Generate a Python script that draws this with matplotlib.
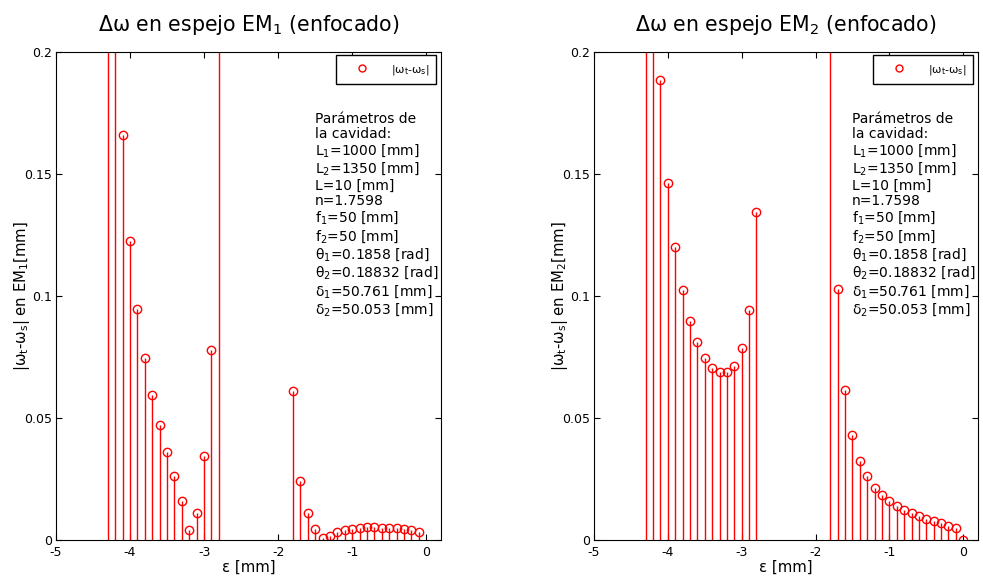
import numpy as np
import matplotlib.pyplot as plt
from matplotlib.lines import Line2D

# epsilon values (mm), step 0.1 from -4.3 to 0
eps = [-4.3, -4.2, -4.1, -4.0, -3.9, -3.8, -3.7, -3.6, -3.5, -3.4, -3.3, -3.2,
       -3.1, -3.0, -2.9, -2.8, -2.7, -2.6, -2.5, -2.4, -2.3, -2.2, -2.1, -2.0,
       -1.9, -1.8, -1.7, -1.6, -1.5, -1.4, -1.3, -1.2, -1.1, -1.0, -0.9, -0.8,
       -0.7, -0.6, -0.5, -0.4, -0.3, -0.2, -0.1, 0.0]

nan = np.nan
# |w_t - w_s| at EM1 (values above 0.2 are off-scale in the picture)
dw_em1 = [0.45, 0.32, 0.166, 0.1225, 0.0947, 0.0747, 0.0594, 0.0473, 0.0362, 0.0264,
          0.0160, 0.0041, 0.0111, 0.0343, 0.0779, 0.40,
          nan, nan, nan, nan, nan, nan, nan, nan, nan,
          0.0611, 0.0243, 0.0111, 0.0045, 0.0007, 0.0016, 0.0031, 0.0041, 0.0046,
          0.0051, 0.0052, 0.0053, 0.0051, 0.0051, 0.0048, 0.0044, 0.0041, 0.0031, nan]

# |w_t - w_s| at EM2
dw_em2 = [0.45, 0.32, 0.1885, 0.1464, 0.1199, 0.1023, 0.0899, 0.0810, 0.0746, 0.0706,
          0.0687, 0.0687, 0.0714, 0.0786, 0.0943, 0.1343,
          nan, nan, nan, nan, nan, nan, nan, nan, nan,
          0.40, 0.1030, 0.0616, 0.0430, 0.0324, 0.0261, 0.0214, 0.0184, 0.0160,
          0.0139, 0.0123, 0.0109, 0.0097, 0.0087, 0.0078, 0.0070, 0.0059, 0.0048, 0.0]

params = ("Parámetros de\nla cavidad:\nL$_1$=1000 [mm]\nL$_2$=1350 [mm]\nL=10 [mm]\n"
          "n=1.7598\nf$_1$=50 [mm]\nf$_2$=50 [mm]\nθ$_1$=0.1858 [rad]\n"
          "θ$_2$=0.18832 [rad]\nδ$_1$=50.761 [mm]\nδ$_2$=50.053 [mm]")

xticks = [-5, -4, -3, -2, -1, 0]
yticks = [0, 0.05, 0.1, 0.15, 0.2]

fig = plt.figure(figsize=(9.83, 5.77), dpi=100)
ax1 = fig.add_axes([0.057, 0.0641, 0.3916, 0.8458])
ax2 = fig.add_axes([0.6043, 0.0641, 0.3906, 0.8458])


def draw(ax, vals, k):
    x = np.array(eps)
    y = np.array(vals, dtype=float)
    ok = ~np.isnan(y)
    ml, sl, bl = ax.stem(x[ok], y[ok], linefmt='r-', markerfmt='ro', basefmt=' ')
    ml.set_markerfacecolor('none')
    ml.set_markersize(6)
    ml.set_markeredgewidth(1)
    sl.set_linewidth(1)
    ax.set_xlim(-5, 0.2)
    ax.set_ylim(0, 0.2)
    ax.set_xticks(xticks)
    ax.set_xticklabels([str(t) for t in xticks])
    ax.set_yticks(yticks)
    ax.set_yticklabels(['0', '0.05', '0.1', '0.15', '0.2'])
    ax.tick_params(direction='in', top=True, right=True, length=4, labelsize=9)
    ax.tick_params(axis='x', pad=4)
    ax.tick_params(axis='y', pad=3)
    for s in ax.spines.values():
        s.set_linewidth(0.8)
        s.set_zorder(5)
    ax.set_title("Δω en espejo EM$_%d$ (enfocado)" % k, fontsize=14.8, pad=15)
    ax.set_xlabel("ε [mm]", fontsize=10.7, labelpad=1)
    ax.set_ylabel("|ω$_\\mathrm{t}$-ω$_\\mathrm{s}$| en EM$_%d$[mm]" % k, fontsize=10.7)
    ax.yaxis.set_label_coords(-0.063, 0.5)
    h = Line2D([], [], color='r', marker='o', markerfacecolor='none', linestyle='none',
               markersize=5)
    leg = ax.legend([h], ["|ω$_\\mathrm{t}$-ω$_\\mathrm{s}$|"], loc='upper right',
                    bbox_to_anchor=(0.988, 0.993), borderaxespad=0, fontsize=8,
                    fancybox=False, framealpha=1, edgecolor='black',
                    handlelength=3.4, handletextpad=0.9, borderpad=0.65)
    leg.get_frame().set_linewidth(1)
    ax.text(0.672, 0.878, params, transform=ax.transAxes, fontsize=10,
            va='top', ha='left', linespacing=1.12)


draw(ax1, dw_em1, 1)
draw(ax2, dw_em2, 2)

fig.savefig("out.png", dpi=100)
